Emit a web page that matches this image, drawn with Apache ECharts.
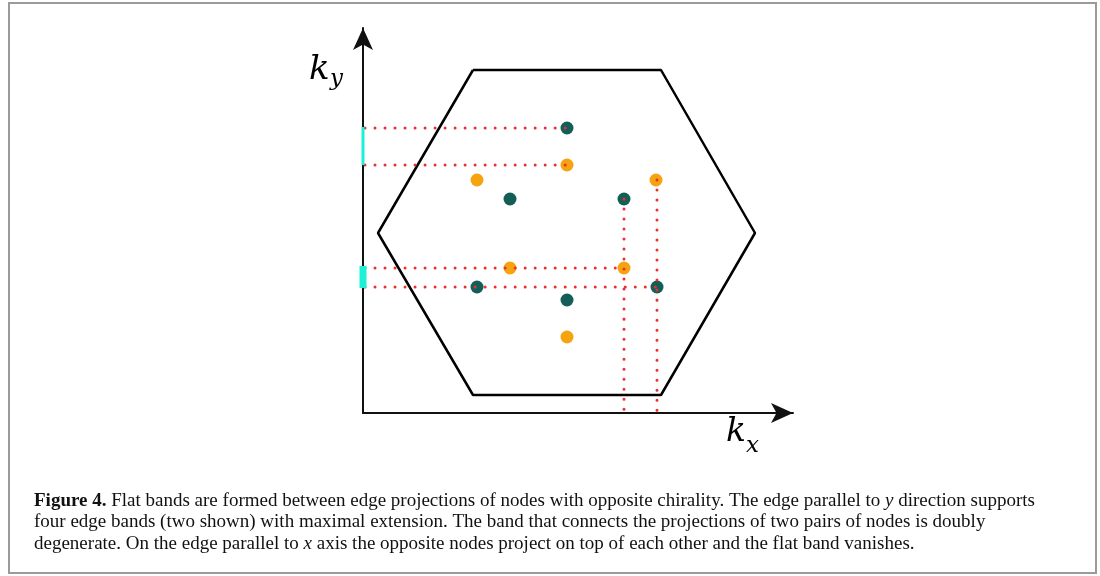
<!DOCTYPE html>
<html>
<head>
<meta charset="utf-8">
<script src="https://cdn.jsdelivr.net/npm/echarts@6/dist/echarts.min.js"></script>
<style>
  html, body { margin: 0; padding: 0; background: #fff; }
  #chart { width: 1100px; height: 576px; }
</style>
</head>
<body>
<div id="chart"></div>
<script>
// k-space coordinates (arbitrary units, origin at the axes corner)
var hexagon = [[110, 343], [298, 343], [392, 180], [298, 18], [110, 18], [15, 180], [110, 343]];

// nodes of one chirality (dark) and the opposite chirality (orange)
var darkNodes = [[204, 285], [147, 214], [261, 214], [114, 126], [204, 113], [294, 126]];
var orangeNodes = [[204, 248], [114, 233], [293, 233], [147, 145], [261, 145], [204, 76]];

// edge projections (dotted red)
var projH = [
  [[2, 285], [204, 285]],
  [[2, 248], [204, 248]],
  [[2, 145], [261, 145]],
  [[2, 126], [294, 126]]
];
var projV = [
  [[261, 214], [261, 0]],
  [[294, 233], [294, 0]]
];

// flat bands on the k_y axis
var bandThin = [[0, 248], [0, 286]];
var bandThick = [[0, 125], [0, 147]];

var captionLines = [
  [['b', 'Figure 4.'], ['n', ' Flat bands are formed between edge projections of nodes with opposite chirality. The edge parallel to '], ['i', 'y'], ['n', ' direction supports']],
  [['n', 'four edge bands (two shown) with maximal extension. The band that connects the projections of two pairs of nodes is doubly']],
  [['n', 'degenerate. On the edge parallel to '], ['i', 'x'], ['n', ' axis the opposite nodes project on top of each other and the flat band vanishes.']]
];

var chart = echarts.init(document.getElementById('chart'));

var series = [];

series.push({
  type: 'line',
  data: hexagon,
  symbol: 'none',
  z: 3,
  lineStyle: { color: '#000', width: 2.5 }
});

projH.concat(projV).forEach(function (seg) {
  series.push({
    type: 'line',
    data: seg,
    symbol: 'none',
    z: 6,
    lineStyle: { color: '#e8302f', width: 3, type: [0.01, 10], cap: 'round' }
  });
});

series.push({
  type: 'line', data: bandThin, symbol: 'none', z: 7,
  lineStyle: { color: '#1cf0d6', width: 3 }
});
series.push({
  type: 'line', data: bandThick, symbol: 'none', z: 7,
  lineStyle: { color: '#1cf0d6', width: 7 }
});

series.push({
  type: 'scatter', data: darkNodes, symbolSize: 13, z: 4,
  itemStyle: { color: '#145e58', opacity: 1 }
});
series.push({
  type: 'scatter', data: orangeNodes, symbolSize: 13, z: 4,
  itemStyle: { color: '#f6a312', opacity: 1 }
});

function mathText(str, x, baseline, size) {
  return {
    type: 'text', x: x, y: baseline - size * 0.32,
    style: {
      text: str, fill: '#000',
      font: 'italic ' + size + 'px "DejaVu Serif"',
      verticalAlign: 'middle'
    }
  };
}

var graphics = [
  {
    type: 'rect',
    shape: { x: 9, y: 3, width: 1087, height: 570 },
    style: { fill: 'none', stroke: '#9a9a9a', lineWidth: 2 }
  },
  mathText('k', 309, 81, 34),
  mathText('y', 330, 86, 23),
  mathText('k', 726, 443, 33),
  mathText('x', 746, 453, 23)
];

var lineTops = [491.5, 513, 534.5];
captionLines.forEach(function (parts, i) {
  var txt = parts.map(function (p) { return '{' + p[0] + '|' + p[1] + '}'; }).join('');
  graphics.push({
    type: 'text', left: 34, top: lineTops[i],
    style: {
      text: txt,
      rich: {
        b: { fontFamily: 'Liberation Serif', fontWeight: 'bold', fontSize: 19, fill: '#111' },
        n: { fontFamily: 'Liberation Serif', fontSize: 19, fill: '#111' },
        i: { fontFamily: 'Liberation Serif', fontStyle: 'italic', fontSize: 19, fill: '#111' }
      }
    }
  });
});

chart.setOption({
  animation: false,
  backgroundColor: '#fff',
  grid: { left: 363, top: 28, width: 430, height: 385 },
  xAxis: {
    type: 'value', min: 0, max: 430,
    splitLine: { show: false }, axisTick: { show: false }, axisLabel: { show: false },
    axisLine: { show: true, onZero: false, symbol: ['none', 'arrow'], symbolSize: [15, 22], lineStyle: { color: '#111', width: 2 } }
  },
  yAxis: {
    type: 'value', min: 0, max: 385,
    splitLine: { show: false }, axisTick: { show: false }, axisLabel: { show: false },
    axisLine: { show: true, onZero: false, symbol: ['none', 'arrow'], symbolSize: [15, 22], lineStyle: { color: '#111', width: 2 } }
  },
  series: series,
  graphic: graphics
});
</script>
</body>
</html>
